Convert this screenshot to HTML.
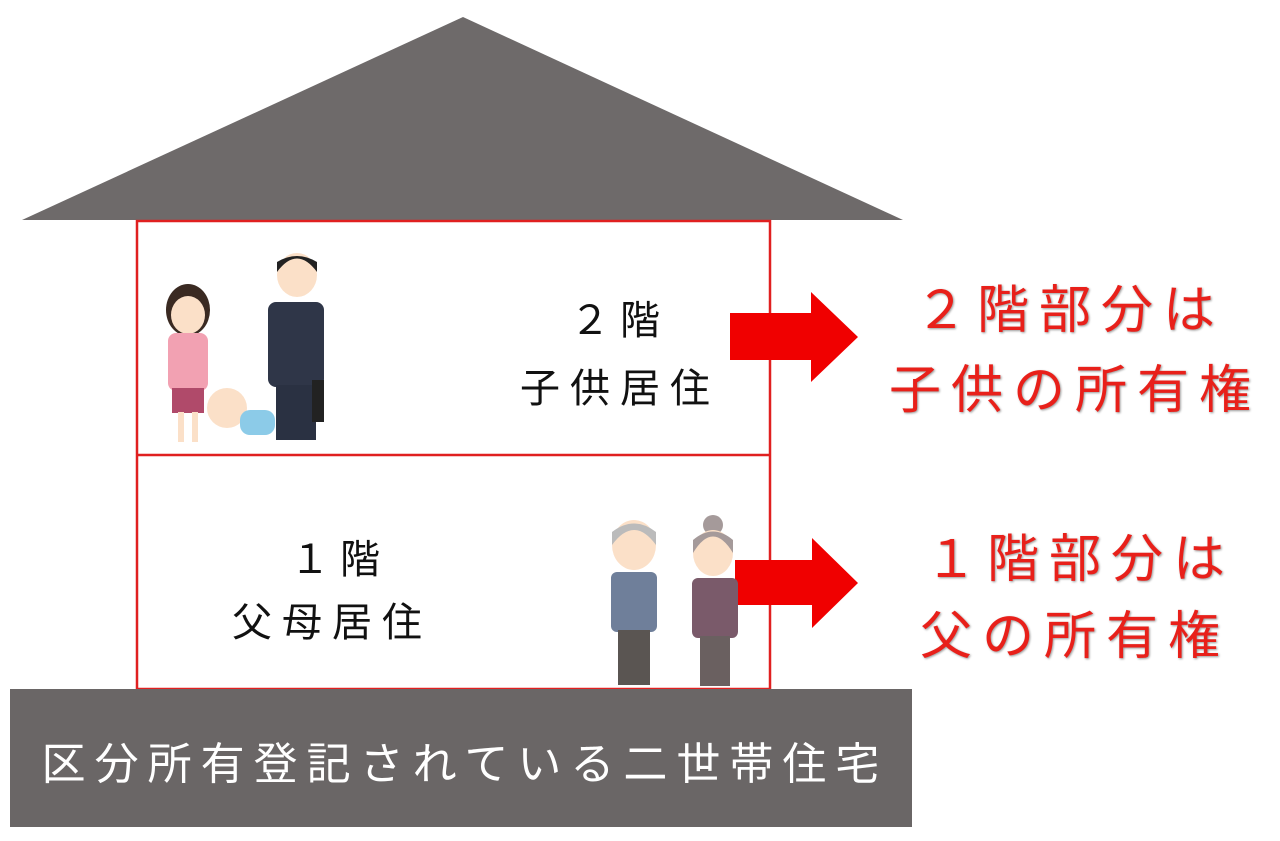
<!DOCTYPE html>
<html><head><meta charset="utf-8"><style>
html,body{margin:0;padding:0;background:#fff;width:1280px;height:841px;overflow:hidden;position:relative;font-family:"Liberation Sans","Noto Sans CJK JP",sans-serif}
.t{position:absolute;white-space:nowrap;text-align:center}
.k{color:#111;font-size:40px;letter-spacing:10px}
.r{color:#e8201a;font-size:52px;letter-spacing:10px;text-shadow:1px 1px 2px #999}
</style></head><body>
<svg width="1280" height="841" style="position:absolute;left:0;top:0">
<polygon points="463,17 903,220 22,220" fill="#6e6a6a"/>
<rect x="137" y="221" width="633" height="468" fill="#fff" stroke="#e02020" stroke-width="2.5"/>
<line x1="137" y1="455" x2="770" y2="455" stroke="#e02020" stroke-width="2.5"/>
<rect x="10" y="689" width="902" height="138" fill="#6a6666"/>
<polygon points="730,313 811,313 811,292 858,337 811,382 811,360 730,360" fill="#f00000"/>
<polygon points="735,560 812,560 812,538 858,583 812,628 812,605 735,605" fill="#f00000"/>
<ellipse cx="188" cy="310" rx="22" ry="26" fill="#3a2a22"/>
<ellipse cx="188" cy="315" rx="17" ry="19" fill="#fbe0c8"/>
<rect x="168" y="333" width="40" height="58" rx="8" fill="#f2a1b2"/>
<rect x="172" y="388" width="32" height="25" fill="#b04a6a"/>
<rect x="178" y="412" width="6" height="30" fill="#fbe0c8"/><rect x="192" y="412" width="6" height="30" fill="#fbe0c8"/>
<ellipse cx="297" cy="275" rx="20" ry="22" fill="#fbe0c8"/>
<path d="M277,272 Q297,245 317,272 L317,262 Q297,250 277,262Z" fill="#222"/>
<rect x="268" y="302" width="56" height="85" rx="8" fill="#2f3648"/>
<rect x="276" y="385" width="40" height="55" fill="#2a3142"/>
<rect x="312" y="380" width="12" height="42" fill="#222"/>
<circle cx="227" cy="408" r="20" fill="#fbe0c8"/>
<rect x="240" y="410" width="35" height="25" rx="10" fill="#8ccbe8"/>
<ellipse cx="634" cy="545" rx="22" ry="25" fill="#fbe0c8"/>
<path d="M612,545 Q634,515 656,545 L656,532 Q634,515 612,532Z" fill="#bbb"/>
<rect x="611" y="572" width="46" height="60" rx="6" fill="#6f7f9a"/>
<rect x="618" y="630" width="32" height="55" fill="#5a5552"/>
<circle cx="713" cy="525" r="10" fill="#a59a9a"/>
<ellipse cx="713" cy="553" rx="20" ry="23" fill="#fbe0c8"/>
<path d="M693,553 Q713,520 733,553 L733,540 Q713,523 693,540Z" fill="#a59a9a"/>
<rect x="692" y="578" width="46" height="60" rx="6" fill="#7a5a6a"/>
<rect x="700" y="636" width="30" height="50" fill="#6a6060"/>
</svg>
<div class="t k" style="left:565px;top:288px;width:110px">２階</div>
<div class="t k" style="left:510px;top:356px;width:220px">子供居住</div>
<div class="t k" style="left:285px;top:527px;width:110px">１階</div>
<div class="t k" style="left:222px;top:590px;width:220px">父母居住</div>
<div class="t r" style="left:900px;top:268px;width:340px">２階部分は</div>
<div class="t r" style="left:865px;top:348px;width:420px">子供の所有権</div>
<div class="t r" style="left:910px;top:517px;width:340px">１階部分は</div>
<div class="t r" style="left:895px;top:594px;width:360px">父の所有権</div>
<div class="t" style="left:14px;top:728px;width:902px;color:#fff;font-size:44px;letter-spacing:9px">区分所有登記されている二世帯住宅</div>
</body></html>
